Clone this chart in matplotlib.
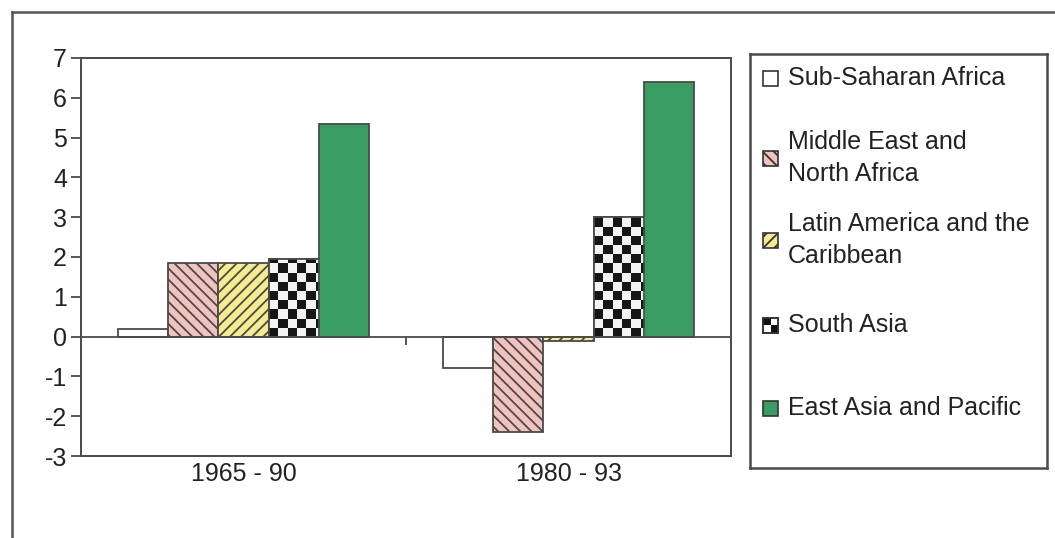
import numpy as np
import matplotlib
matplotlib.use("Agg")
import matplotlib.pyplot as plt
from matplotlib.patches import Rectangle
from matplotlib.lines import Line2D

plt.rcParams['font.family'] = ['Liberation Sans', 'DejaVu Sans']
plt.rcParams['hatch.linewidth'] = 1.3
plt.rcParams['axes.unicode_minus'] = False

# data
periods = ['1965 - 90', '1980 - 93']
regions = ['Sub-Saharan Africa', 'Middle East and\nNorth Africa',
           'Latin America and the\nCaribbean', 'South Asia',
           'East Asia and Pacific']
sub_saharan = [0.2, -0.8]
mena = [1.85, -2.4]
latin = [1.85, -0.1]
south_asia = [1.95, 3.0]
east_asia = [5.35, 6.4]
series = [sub_saharan, mena, latin, south_asia, east_asia]

faces = ['white', '#f2c2bf', '#f4ec8e', 'white', '#389c63']
hatches = [None, '\\\\\\', '///', None, None]
edge = '#4a4a4a'
fs = 18

fig = plt.figure(figsize=(10.55, 5.38), dpi=100)
ax = fig.add_axes([81/1055, 82/538, 650/1055, 398/538])

x = np.arange(len(periods))
w = 0.155
for i, vals in enumerate(series):
    pos = x + (i - 2) * w
    bars = ax.bar(pos, vals, w, color=faces[i], edgecolor=edge,
                  hatch=hatches[i], linewidth=1.3, zorder=2)
    if i == 3:
        # checkerboard fill
        sq_x, sq_y = 0.0285, 0.23
        for r in bars:
            x0 = r.get_x()
            nx = 8
            ny = 20
            board = (np.indices((ny, nx)).sum(axis=0) % 2).astype(float)
            im = ax.imshow(board, cmap='gray', vmin=-0.1, vmax=1.05,
                           extent=(x0, x0 + nx * sq_x, 0, ny * sq_y),
                           origin='lower', interpolation='nearest',
                           aspect='auto', zorder=2.5)
            im.set_clip_path(r)
        ax.bar(pos, vals, w, fill=False, edgecolor=edge, linewidth=1.3,
               zorder=3)

ax.set_xlim(-0.5, 1.5)
ax.set_ylim(-3, 7)
ax.set_yticks(range(-3, 8))
ax.set_xticks(x)
ax.set_xticklabels(periods)
ax.axhline(0, color=edge, linewidth=1.3, zorder=3)
ax.vlines([0.5], -0.2, 0, color=edge, linewidth=1.3, zorder=3)

for s in ax.spines.values():
    s.set_color(edge)
    s.set_linewidth(1.4)
ax.tick_params(axis='y', length=7, width=1.3, color=edge, pad=3,
               labelsize=fs, labelcolor='#222222')
ax.tick_params(axis='x', length=0, pad=4, labelsize=fs,
               labelcolor='#222222')

# legend box
lg = fig.add_axes([750/1055, 70/538, 297/1055, 414/538])
lg.set_xlim(0, 297)
lg.set_ylim(414, 0)
lg.set_xticks([])
lg.set_yticks([])
for s in lg.spines.values():
    s.set_color(edge)
    s.set_linewidth(1.8)
ys = [24, 104, 186, 271, 354]
for i, lab in enumerate(regions):
    yc = ys[i]
    lg.add_patch(Rectangle((13, yc - 7.5), 15, 15, facecolor=faces[i],
                           edgecolor='#333333', hatch=hatches[i],
                           linewidth=1.2))
    if i == 3:
        lg.add_patch(Rectangle((13, yc - 7.5), 7.5, 7.5, facecolor='#111111',
                               edgecolor='none'))
        lg.add_patch(Rectangle((20.5, yc), 7.5, 7.5, facecolor='#111111',
                               edgecolor='none'))
        lg.add_patch(Rectangle((13, yc - 7.5), 15, 15, fill=False,
                               edgecolor='#333333', linewidth=1.2))
    lg.text(38, yc, lab, fontsize=fs, color='#222222', va='center',
            ha='left', linespacing=1.38)

# outer frame
fig.add_artist(Line2D([12/1055, 12/1055], [0, 1 - 12/538],
                      transform=fig.transFigure, color='#555555', lw=1.8))
fig.add_artist(Line2D([12/1055, 1], [1 - 12/538, 1 - 12/538],
                      transform=fig.transFigure, color='#555555', lw=1.8))

fig.savefig('out.png', dpi=100)
